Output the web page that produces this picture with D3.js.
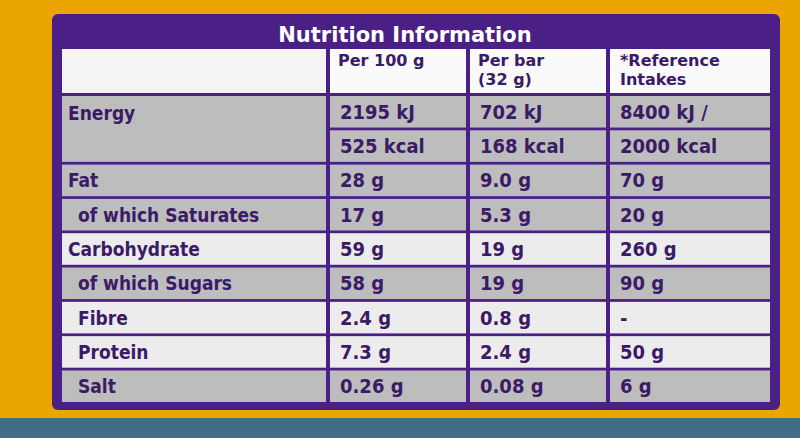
<!DOCTYPE html><html><head><script src="https://cdn.jsdelivr.net/npm/d3@7"></script>
<style>body{margin:0;background:#e9a400}svg{display:block}</style></head><body><svg width="800" height="438"></svg>
<script>
const title="Nutrition Information";
const headers=["","Per 100 g","Per bar\n(32 g)","*Reference\nIntakes"];
const rowKeys=["e1","e2","fat","sat","carb","sug","fib","pro","salt"];
const labels=["Energy","","Fat","of which Saturates","Carbohydrate","of which Sugars","Fibre","Protein","Salt"];
const indent=[0,0,0,1,0,1,1,1,1];
const per100=["2195 kJ","525 kcal","28 g","17 g","59 g","58 g","2.4 g","7.3 g","0.26 g"];
const perBar=["702 kJ","168 kcal","9.0 g","5.3 g","19 g","19 g","0.8 g","2.4 g","0.08 g"];
const ri=["8400 kJ /","2000 kcal","70 g","20 g","260 g","90 g","-","50 g","6 g"];
const shade=[1,1,1,1,0,1,0,0,1];
const svg=d3.select("svg");
const purple="#4a1f86", txt="#3b1a66";
// background band
svg.append("rect").attr("x",0).attr("y",405).attr("width",800).attr("height",33).attr("fill","#3f6e86");
svg.append("rect").attr("x",0).attr("y",0).attr("width",800).attr("height",418).attr("fill","#eaa500");
svg.append("rect").attr("x",52).attr("y",14).attr("width",728).attr("height",396).attr("fill",purple).attr("rx",6);
svg.append("text").attr("x",405).attr("y",42).attr("text-anchor","middle").attr("fill","#fff")
 .attr("font-family","DejaVu Sans").attr("font-weight","bold").attr("font-size",21).text(title);
const x=d3.scaleOrdinal().domain([0,1,2,3]).range([62,330,470,610]);
const w=[264,136,136,160];
const y=d3.scaleBand().domain(rowKeys).range([96,402]).paddingInner(0.08);
// header
headers.forEach((h,i)=>{
 svg.append("rect").attr("x",x(i)).attr("y",49).attr("width",w[i]).attr("height",44).attr("fill",i==0?"#f4f4f4":"#fafafa");
 h.split("\n").forEach((l,j)=>svg.append("text").attr("x",x(i)+(i==3?10:8)).attr("y",66+j*19).attr("fill",txt)
  .attr("font-family","DejaVu Sans").attr("font-weight","bold").attr("font-size",16).text(l));
});
const cols=[labels,per100,perBar,ri];
rowKeys.forEach((k,r)=>{
 cols.forEach((c,i)=>{
  const y0=(k=="e1"&&i==0)?y("e1"):y(k);
  if(k=="e2"&&i==0)return;
  const h=(k=="e1"&&i==0)?y("e2")+y.bandwidth()-y("e1"):y.bandwidth();
  svg.append("rect").attr("x",x(i)).attr("y",y0).attr("width",w[i]).attr("height",h)
   .attr("fill",shade[r]?"#bdbdbd":"#ececec");
  const ty=(k=="e1"&&i==0)?y0+24:y0+y.bandwidth()/2+7;
  svg.append("text").attr("x",x(i)+(i==0?6+indent[r]*10:10)).attr("y",ty).attr("fill",txt)
   .attr("font-family","DejaVu Sans Condensed").attr("font-weight","bold").attr("font-size",i==0?19:20).text(c[r]);
 });
});
</script></body></html>
